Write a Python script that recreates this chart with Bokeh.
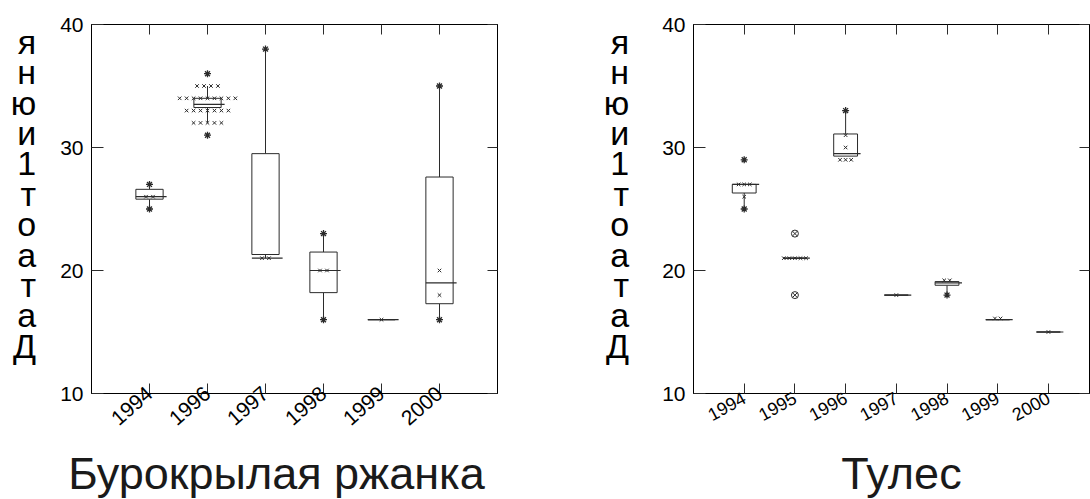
from collections import Counter
from bokeh.plotting import figure
from bokeh.layouts import row, column
from bokeh.models import LinearAxis, FixedTicker, Range1d
from bokeh.core.properties import value
from bokeh.embed import file_html
from bokeh.resources import INLINE

# ---------------- data: Бурокрылая ржанка ----------------
years_left = ["1994", "1996", "1997", "1998", "1999", "2000"]
q1_left = [25.8, 33.25, 21.3, 18.2, 16.0, 17.3]
q3_left = [26.6, 34.0, 29.5, 21.5, 16.0, 27.6]
median_left = [26.0, 33.5, 21.0, 20.0, 16.0, 19.0]
whisker_low_left = [25, 32, 21, 16, 16, 16]
whisker_high_left = [27, 35, 38, 23, 16, 35]
points_left = [[26, 26],
               [35] * 4 + [34] * 9 + [33] * 7 + [32] * 5,
               [21, 21], [20, 20], [16], [20, 18]]
extremes_left = [[27, 25], [36, 31], [38], [23, 16], [], [35, 16]]
outliers_left = [[], [], [], [], [], []]

# ---------------- data: Тулес ----------------
years_right = ["1994", "1995", "1996", "1997", "1998", "1999", "2000"]
q1_right = [26.3, 21.0, 29.3, 18.0, 18.8, 16.0, 15.0]
q3_right = [27.0, 21.0, 31.1, 18.0, 19.1, 16.0, 15.0]
median_right = [27.0, 21.0, 29.5, 18.0, 19.0, 16.0, 15.0]
whisker_low_right = [25, 21, 29.3, 18, 18, 16, 15]
whisker_high_right = [27, 21, 33, 18, 19.1, 16, 15]
points_right = [[27, 27, 27, 26], [21] * 5, [31, 30, 29, 29, 29], [18],
                [19.2, 19.2], [16.1, 16.1], [15]]
extremes_right = [[29, 25], [], [33], [], [18], [], []]
outliers_right = [[], [23, 18], [], [], [], [], []]

y_label_chars = ["я", "н", "ю", "и", "1", "т", "о", "а", "т", "а", "Д"]
title_left = "Бурокрылая ржанка"
title_right = "Тулес"
y_ticks = [10, 20, 30, 40]

FONT = "Liberation Sans"
INK = "#2b2b2b"
PANEL_W = 545
PLOT_H = 440
TITLE_H = 59


def make_panel(years, q1, q3, med, wlo, whi, pts, extremes, outliers,
               xmax, border_left, border_right, xlab_size, xlab_angle,
               xlab_standoff, dx, ylab_standoff):
    p = figure(width=PANEL_W, height=PLOT_H, output_backend="svg",
               toolbar_location=None, title=None,
               x_range=Range1d(0, xmax), y_range=Range1d(10, 40),
               min_border_left=border_left, min_border_right=border_right,
               min_border_top=24, min_border_bottom=47,
               x_axis_location=None, y_axis_location=None)
    p.xgrid.visible = False
    p.ygrid.visible = False
    p.outline_line_color = "black"
    p.outline_line_width = 1
    p.background_fill_color = "white"
    p.border_fill_color = "white"

    xs = list(range(1, len(years) + 1))
    w = 0.47

    # axes
    bottom = LinearAxis(ticker=FixedTicker(ticks=xs, minor_ticks=[]),
                        major_label_overrides={x: y for x, y in zip(xs, years)})
    bottom.major_tick_in = 10
    bottom.major_tick_out = 0
    bottom.major_label_orientation = xlab_angle
    bottom.major_label_text_font = FONT
    bottom.major_label_text_font_size = xlab_size
    bottom.major_label_text_color = "black"
    bottom.major_label_standoff = xlab_standoff
    bottom.axis_line_color = "black"
    bottom.major_tick_line_color = INK
    p.add_layout(bottom, "below")

    top = LinearAxis(ticker=FixedTicker(ticks=xs, minor_ticks=[]),
                     major_label_overrides={x: "" for x in xs})
    top.major_tick_in = 10
    top.major_tick_out = 0
    top.major_label_standoff = 0
    top.axis_line_color = "black"
    top.major_tick_line_color = INK
    p.add_layout(top, "above")

    left = LinearAxis(ticker=FixedTicker(ticks=y_ticks, minor_ticks=[]))
    left.major_tick_in = 12
    left.major_tick_out = 0
    left.major_label_text_font = FONT
    left.major_label_text_font_size = "21px"
    left.major_label_text_color = "black"
    left.major_label_standoff = 8
    left.axis_line_color = "black"
    left.major_tick_line_color = INK
    left.axis_label = "\n".join(y_label_chars) + "\n"
    left.axis_label_orientation = "horizontal"
    left.axis_label_text_font = FONT
    left.axis_label_text_font_size = "34px"
    left.axis_label_text_font_style = "normal"
    left.axis_label_text_color = "black"
    left.axis_label_text_line_height = 0.8
    left.axis_label_standoff = ylab_standoff
    p.add_layout(left, "left")

    right = LinearAxis(ticker=FixedTicker(ticks=y_ticks, minor_ticks=[]),
                       major_label_overrides={t: "" for t in y_ticks})
    right.major_tick_in = 10
    right.major_tick_out = 0
    right.major_label_standoff = 0
    right.axis_line_color = "black"
    right.major_tick_line_color = INK
    p.add_layout(right, "right")

    # whiskers
    p.segment(x0=xs, y0=q3, x1=xs, y1=whi, line_color=INK, line_width=1)
    p.segment(x0=xs, y0=q1, x1=xs, y1=wlo, line_color=INK, line_width=1)
    # boxes
    p.quad(left=[x - w / 2 for x in xs], right=[x + w / 2 for x in xs],
           bottom=q1, top=q3, fill_color="white", line_color=INK, line_width=1)
    # medians
    p.segment(x0=[x - w / 2 for x in xs], y0=med,
              x1=[x + w / 2 + 0.06 for x in xs], y1=med,
              line_color=INK, line_width=1.2)

    # individual points, spread side by side when values repeat
    px, py = [], []
    for x, vals in zip(xs, pts):
        counts = Counter(vals)
        for v, n in counts.items():
            for k in range(n):
                px.append(x + (k - (n - 1) / 2) * dx)
                py.append(v)
    p.scatter(px, py, marker="x", size=5, line_color=INK, line_width=1)

    ex, ey = [], []
    for x, vals in zip(xs, extremes):
        for v in vals:
            ex.append(x)
            ey.append(v)
    p.scatter(ex, ey, marker="asterisk", size=7, line_color=INK, line_width=1.3)

    ox, oy = [], []
    for x, vals in zip(xs, outliers):
        for v in vals:
            ox.append(x)
            oy.append(v)
    if ox:
        p.scatter(ox, oy, marker="circle_x", size=7, line_color=INK,
                  fill_color="white", line_width=1)
    return p


def make_title(text, center_x):
    t = figure(width=PANEL_W, height=TITLE_H, output_backend="svg",
               toolbar_location=None, title=None,
               x_range=Range1d(0, PANEL_W), y_range=Range1d(0, TITLE_H),
               min_border=0, min_border_left=0, min_border_right=0,
               min_border_top=0, min_border_bottom=0,
               x_axis_location=None, y_axis_location=None)
    t.xgrid.visible = False
    t.ygrid.visible = False
    t.outline_line_color = None
    t.text(x=[center_x], y=[26], text=[text], text_align="center",
           text_baseline="alphabetic", text_font=value(FONT),
           text_font_size="45px", text_color="#1a1a1a")
    return t


p1 = make_panel(years_left, q1_left, q3_left, median_left, whisker_low_left,
                whisker_high_left, points_left, extremes_left, outliers_left,
                7.0, 91, 48, "21px", 0.72, -3, 0.12, 21)
p2 = make_panel(years_right, q1_right, q3_right, median_right, whisker_low_right,
                whisker_high_right, points_right, extremes_right, outliers_right,
                7.81, 148, 1, "18px", 0.5, 3, 0.11, 30)
t1 = make_title(title_left, 276)
t2 = make_title(title_right, 356)

layout = column(row(p1, p2, spacing=0), row(t1, t2, spacing=0), spacing=0)
open("out.html", "w").write(file_html(layout, INLINE))
